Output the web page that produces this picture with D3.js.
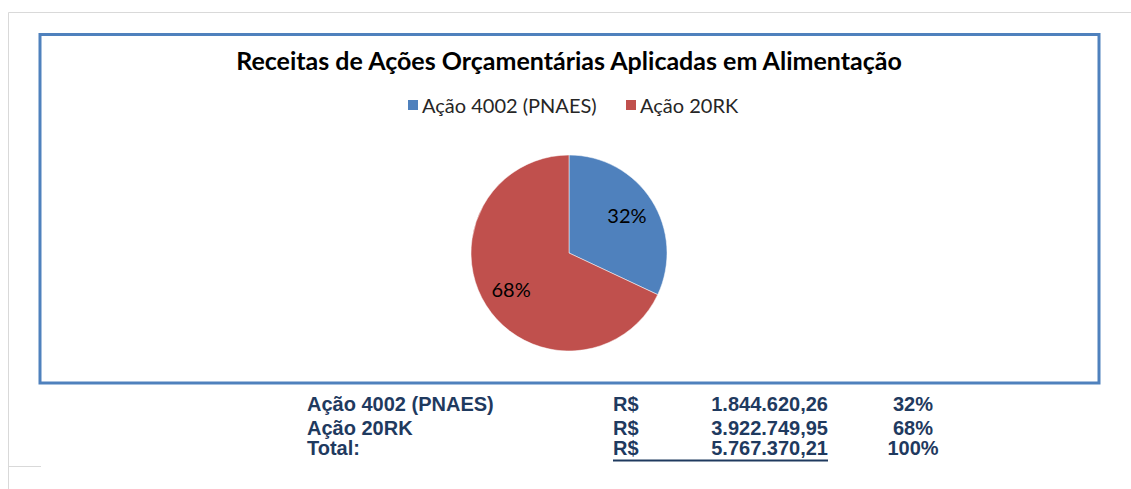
<!DOCTYPE html>
<html>
<head>
<meta charset="utf-8">
<script src="https://cdn.jsdelivr.net/npm/d3@7"></script>
<style>
    body { margin: 0; background: #fff; }
    #chart-container { width: 1131px; height: 489px; }
</style>
</head>
<body>
<div id="chart-container"></div>
<script>
// data
const categories = ["Ação 4002 (PNAES)", "Ação 20RK"];
const values = [1844620.26, 3922749.95];
const percentLabels = ["32%", "68%"];
const valueLabels = ["1.844.620,26", "3.922.749,95"];
const totalLabel = "5.767.370,21";
const totalPercent = "100%";
const colors = ["#4f81bd", "#c0504d"];

const width = 1131;
const height = 489;

const svg = d3.select("#chart-container")
    .append("svg")
    .attr("width", width)
    .attr("height", height);

// light page frame
svg.append("path")
    .attr("d", "M8.5,489 V12.5 H1131 M8.5,466.5 H41")
    .attr("fill", "none")
    .attr("stroke", "#d9d9d9")
    .attr("stroke-width", 1);

// chart box
svg.append("rect")
    .attr("x", 40)
    .attr("y", 34.5)
    .attr("width", 1059)
    .attr("height", 348.5)
    .attr("fill", "#fff")
    .attr("stroke", "#4f81bd")
    .attr("stroke-width", 3);

svg.append("text")
    .attr("x", 569)
    .attr("y", 70)
    .attr("text-anchor", "middle")
    .style("font-family", "Lato, 'Open Sans', sans-serif")
    .style("font-weight", "bold")
    .style("font-size", "25px")
    .style("fill", "#000")
    .text("Receitas de Ações Orçamentárias Aplicadas em Alimentação");

// legend
const legendX = [408, 626];
const legend = svg.append("g");
categories.forEach((c, i) => {
    legend.append("rect")
        .attr("x", legendX[i])
        .attr("y", 100)
        .attr("width", 10)
        .attr("height", 10)
        .attr("fill", colors[i]);
    legend.append("text")
        .attr("x", legendX[i] + 14)
        .attr("y", 113)
        .style("font-family", "Lato, 'Open Sans', sans-serif")
        .style("font-size", "20px")
        .style("fill", "#262626")
        .text(c);
});

// pie
const cx = 569, cy = 253, r = 98;
const pie = d3.pie().sort(null)(values);
const arc = d3.arc().innerRadius(0).outerRadius(r);
const labelArc = d3.arc().innerRadius(r * 0.7).outerRadius(r * 0.7);

const pieG = svg.append("g").attr("transform", `translate(${cx},${cy})`);
pieG.selectAll("path")
    .data(pie)
    .enter()
    .append("path")
    .attr("d", arc)
    .attr("fill", (d, i) => colors[i])
    .attr("stroke", "#fff")
    .attr("stroke-width", 0.5);

pieG.selectAll(".pct")
    .data(pie)
    .enter()
    .append("text")
    .attr("class", "pct")
    .attr("transform", d => `translate(${labelArc.centroid(d)})`)
    .attr("text-anchor", "middle")
    .attr("dy", "0.35em")
    .style("font-family", "Lato, 'Open Sans', sans-serif")
    .style("font-size", "20px")
    .style("fill", "#000")
    .text((d, i) => percentLabels[i]);

// table below the chart
const rowsY = [411, 435, 455];
const rows = categories.map((c, i) => [c, valueLabels[i], percentLabels[i]])
    .concat([["Total:", totalLabel, totalPercent]]);
const tableColor = "#1f3a5f";
const tbl = svg.append("g")
    .style("font-family", "Arial, 'Liberation Sans', sans-serif")
    .style("font-weight", "bold")
    .style("font-size", "20px")
    .style("fill", tableColor);

rows.forEach((row, i) => {
    tbl.append("text").attr("x", 307).attr("y", rowsY[i]).text(row[0]);
    tbl.append("text").attr("x", 613).attr("y", rowsY[i]).text("R$");
    tbl.append("text").attr("x", 828).attr("y", rowsY[i])
        .attr("text-anchor", "end").text(row[1]);
    tbl.append("text").attr("x", 913).attr("y", rowsY[i])
        .attr("text-anchor", "middle").text(row[2]);
});

svg.append("line")
    .attr("x1", 613)
    .attr("x2", 828)
    .attr("y1", 460.5)
    .attr("y2", 460.5)
    .attr("stroke", tableColor)
    .attr("stroke-width", 2);
</script>
</body>
</html>
